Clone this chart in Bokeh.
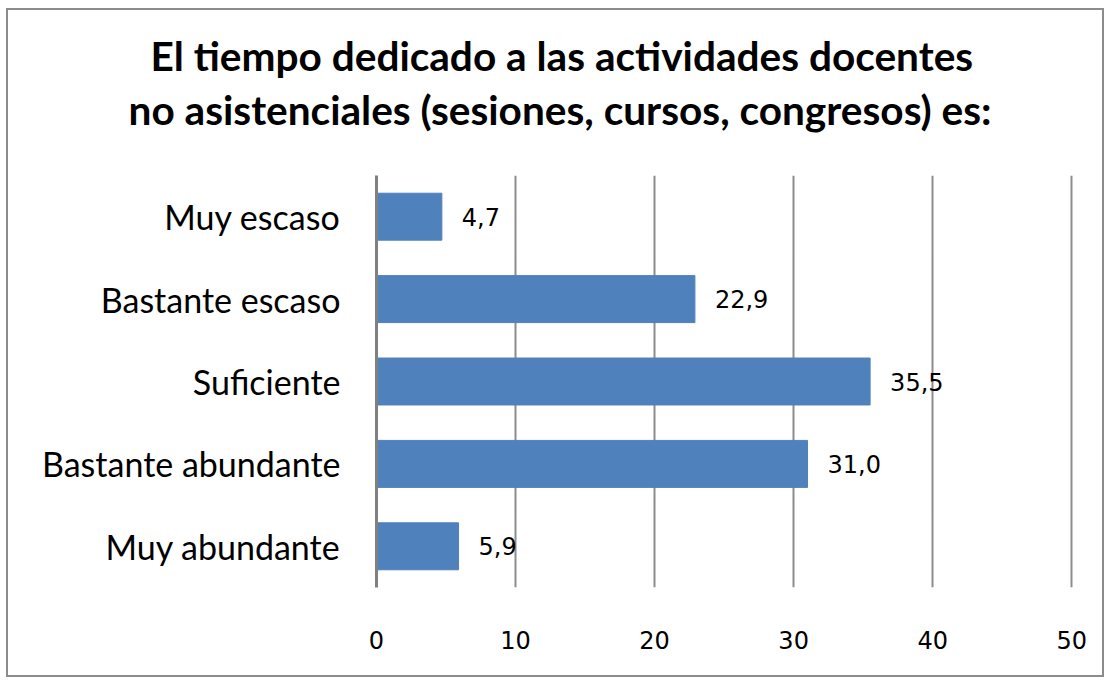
from bokeh.plotting import figure
from bokeh.models import ColumnDataSource, Title, FixedTicker
from bokeh.core.properties import value
from bokeh.embed import file_html
from bokeh.resources import INLINE

categories = ["Muy escaso", "Bastante escaso", "Suficiente", "Bastante abundante", "Muy abundante"]
values = [4.7, 22.9, 35.5, 31.0, 5.9]
labels = ["4,7", "22,9", "35,5", "31,0", "5,9"]
ticks = [0, 10, 20, 30, 40, 50]
title_lines = ["El tiempo dedicado a las actividades docentes",
               "no asistenciales (sesiones, cursos, congresos) es:"]

FONT = "Lato"
NUMFONT = "DejaVu Sans"

src = ColumnDataSource(dict(cat=categories, val=values, lab=labels))

p = figure(width=1098, height=669, output_backend="svg", toolbar_location=None,
           y_range=list(reversed(categories)), x_range=(0, 50.2),
           min_border_left=368, min_border_right=32, min_border_bottom=92, min_border_top=165)
p.styles = {"border": "2px solid #8c8c8c", "margin-left": "6px", "margin-top": "8px"}

# second line is closest to the plot, so it is added first
for line, off, stand in [(title_lines[1], -248, 83), (title_lines[0], -226, -76)]:
    p.add_layout(Title(text=line, text_font=FONT, text_font_size="40.6px", text_font_style="bold",
                       align="left", offset=off, standoff=stand, text_color="black"), "above")

p.hbar(y="cat", right="val", left=0, height=0.57, source=src, color="#4F81BD")
p.text(x="val", y="cat", text="lab", source=src, x_offset=20, text_baseline="middle",
       text_align="left", text_font=value(NUMFONT), text_font_size="24px", text_color="black")

p.outline_line_color = None
p.ygrid.grid_line_color = None
p.xgrid.grid_line_color = "#8c8c8c"
p.xgrid.grid_line_width = 2
p.xgrid.ticker = FixedTicker(ticks=ticks)
p.xaxis.ticker = FixedTicker(ticks=ticks)

p.xaxis.axis_line_color = None
p.xaxis.major_tick_line_color = None
p.xaxis.minor_tick_line_color = None
p.xaxis.major_label_text_font = NUMFONT
p.xaxis.major_label_text_font_size = "24px"
p.xaxis.major_label_text_color = "black"
p.xaxis.major_label_standoff = 37

p.yaxis.axis_line_color = "#808080"
p.yaxis.axis_line_width = 3
p.yaxis.major_tick_line_color = None
p.yaxis.minor_tick_line_color = None
p.yaxis.major_label_text_font = FONT
p.yaxis.major_label_text_font_size = "34px"
p.yaxis.major_label_text_color = "black"
p.yaxis.major_label_standoff = 30

open("out.html", "w").write(file_html(p, INLINE))
